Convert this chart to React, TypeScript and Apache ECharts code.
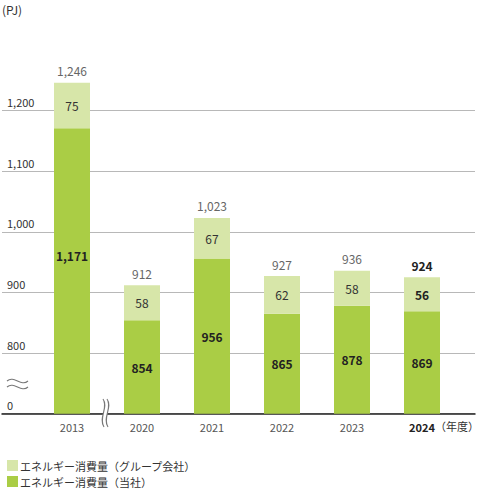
import React, { useEffect, useRef } from "react";
import * as echarts from "echarts";

const years = ["2013", "2020", "2021", "2022", "2023", "2024"];
const ownUse = [1171, 854, 956, 865, 878, 869];
const groupUse = [75, 58, 67, 62, 58, 56];
const totals = [1246, 912, 1023, 927, 936, 924];
const yTicks = { min: 700, max: 1200, step: 100 };
const seriesNames = ["エネルギー消費量（当社）", "エネルギー消費量（グループ会社）"];

const FONT = '"Noto Sans CJK JP", "Noto Sans", sans-serif';
const DARK = "#aacd45";
const LIGHT = "#d7e6a9";

const fmt = (v: number) => v.toLocaleString("en-US");

const legendFor = (name: string, top: number) => ({
  orient: "vertical",
  left: 2,
  top,
  itemWidth: 11,
  itemHeight: 11,
  icon: "rect",
  textStyle: { fontSize: 11, color: "#333", fontFamily: FONT, padding: [0, 0, 0, -3] },
  data: [name],
});

const App: React.FC = () => {
  const chartRef = useRef<HTMLDivElement | null>(null);

  useEffect(() => {
    if (!chartRef.current) return;
    const chart = echarts.init(chartRef.current, undefined, { renderer: "svg" });
    const last = years.length - 1;

    const options = {
      animation: false,
      textStyle: { fontFamily: FONT },
      grid: [
        // gridlines + y labels, full width
        { left: 2, right: 4, top: 110.7, bottom: 75.3 },
        // bars
        { left: 37, right: 22, top: 50, bottom: 75.3 },
      ],
      xAxis: [
        {
          gridIndex: 0,
          type: "value",
          min: 0,
          max: 1,
          axisLine: { show: true, lineStyle: { color: "#222", width: 1.5 } },
          axisTick: { show: false },
          axisLabel: { show: false },
          splitLine: { show: false },
        },
        {
          gridIndex: 1,
          type: "category",
          data: years.map((y, i) =>
            i === last
              ? { value: y, textStyle: { fontWeight: "bold", color: "#222" } }
              : y
          ),
          axisLine: { show: false },
          axisTick: { show: false },
          axisLabel: { margin: 8, color: "#555", fontSize: 11, fontFamily: FONT },
        },
      ],
      yAxis: [
        {
          gridIndex: 0,
          type: "value",
          min: yTicks.min,
          max: yTicks.max,
          interval: yTicks.step,
          axisLine: { show: false },
          axisTick: { show: false },
          splitLine: { lineStyle: { color: "#b8b8b8", width: 1 } },
          axisLabel: {
            inside: true,
            margin: 5,
            verticalAlign: "bottom",
            padding: [0, 0, 3, 0],
            color: "#333",
            fontSize: 11,
            fontFamily: FONT,
            formatter: (v: number) => (v === yTicks.min ? "0" : fmt(v)),
          },
        },
        {
          gridIndex: 1,
          type: "value",
          min: 700,
          max: 1300,
          show: false,
        },
      ],
      legend: [legendFor(seriesNames[1], 455), legendFor(seriesNames[0], 471)],
      series: [
        {
          name: seriesNames[0],
          type: "bar",
          stack: "total",
          xAxisIndex: 1,
          yAxisIndex: 1,
          barWidth: 36,
          itemStyle: { color: DARK },
          label: {
            show: true,
            position: "inside",
            fontWeight: "bold",
            fontSize: 12,
            color: "#222",
            fontFamily: FONT,
            formatter: (p: any) => fmt(p.value),
          },
          data: ownUse.map((v, i) =>
            i === 0 ? { value: v, label: { offset: [0, -15] } } : v
          ),
        },
        {
          name: seriesNames[1],
          type: "bar",
          stack: "total",
          xAxisIndex: 1,
          yAxisIndex: 1,
          barWidth: 36,
          itemStyle: { color: LIGHT },
          label: {
            show: true,
            position: "inside",
            fontSize: 12,
            color: "#333",
            fontFamily: FONT,
          },
          data: groupUse.map((v, i) =>
            i === last ? { value: v, label: { fontWeight: "bold", color: "#222" } } : v
          ),
        },
        {
          name: "total",
          type: "bar",
          stack: "total",
          xAxisIndex: 1,
          yAxisIndex: 1,
          barWidth: 36,
          itemStyle: { color: "transparent" },
          label: {
            show: true,
            position: "top",
            distance: 6,
            fontSize: 12,
            color: "#666",
            fontFamily: FONT,
            formatter: (p: any) => fmt(totals[p.dataIndex]),
          },
          data: totals.map((_, i) =>
            i === last ? { value: 0, label: { fontWeight: "bold", color: "#222" } } : 0
          ),
        },
      ],
      graphic: [
        {
          type: "text",
          left: 2,
          top: 3,
          style: { text: "(PJ)", fontSize: 12, fill: "#333", fontFamily: FONT },
        },
        {
          type: "text",
          left: 435,
          top: 420,
          style: { text: "（年度）", fontSize: 11, fill: "#333", fontFamily: FONT },
        },
        // y-axis break mark
        {
          type: "bezierCurve",
          shape: { x1: 7, y1: 381, cpx1: 14, cpy1: 375, cpx2: 21, cpy2: 387, x2: 28, y2: 381 },
          style: { stroke: "#777", lineWidth: 1.1, fill: null },
        },
        {
          type: "bezierCurve",
          shape: { x1: 7, y1: 387, cpx1: 14, cpy1: 381, cpx2: 21, cpy2: 393, x2: 28, y2: 387 },
          style: { stroke: "#777", lineWidth: 1.1, fill: null },
        },
        // x-axis break mark
        {
          type: "rect",
          shape: { x: 103, y: 411, width: 4, height: 5 },
          style: { fill: "#fff" },
          z: 10,
        },
        {
          type: "bezierCurve",
          shape: { x1: 103, y1: 399, cpx1: 109, cpy1: 407, cpx2: 98, cpy2: 418, x2: 104, y2: 427 },
          style: { stroke: "#777", lineWidth: 1.1, fill: null },
          z: 11,
        },
        {
          type: "bezierCurve",
          shape: { x1: 107, y1: 399, cpx1: 113, cpy1: 407, cpx2: 102, cpy2: 418, x2: 108, y2: 427 },
          style: { stroke: "#777", lineWidth: 1.1, fill: null },
          z: 11,
        },
      ],
    };

    chart.setOption(options);

    return () => {
      chart.dispose();
    };
  }, []);

  return (
    <div
      ref={chartRef}
      style={{ position: "fixed", left: 0, top: 0, width: "479px", height: "489px", background: "#fff" }}
    />
  );
};

export default App;
